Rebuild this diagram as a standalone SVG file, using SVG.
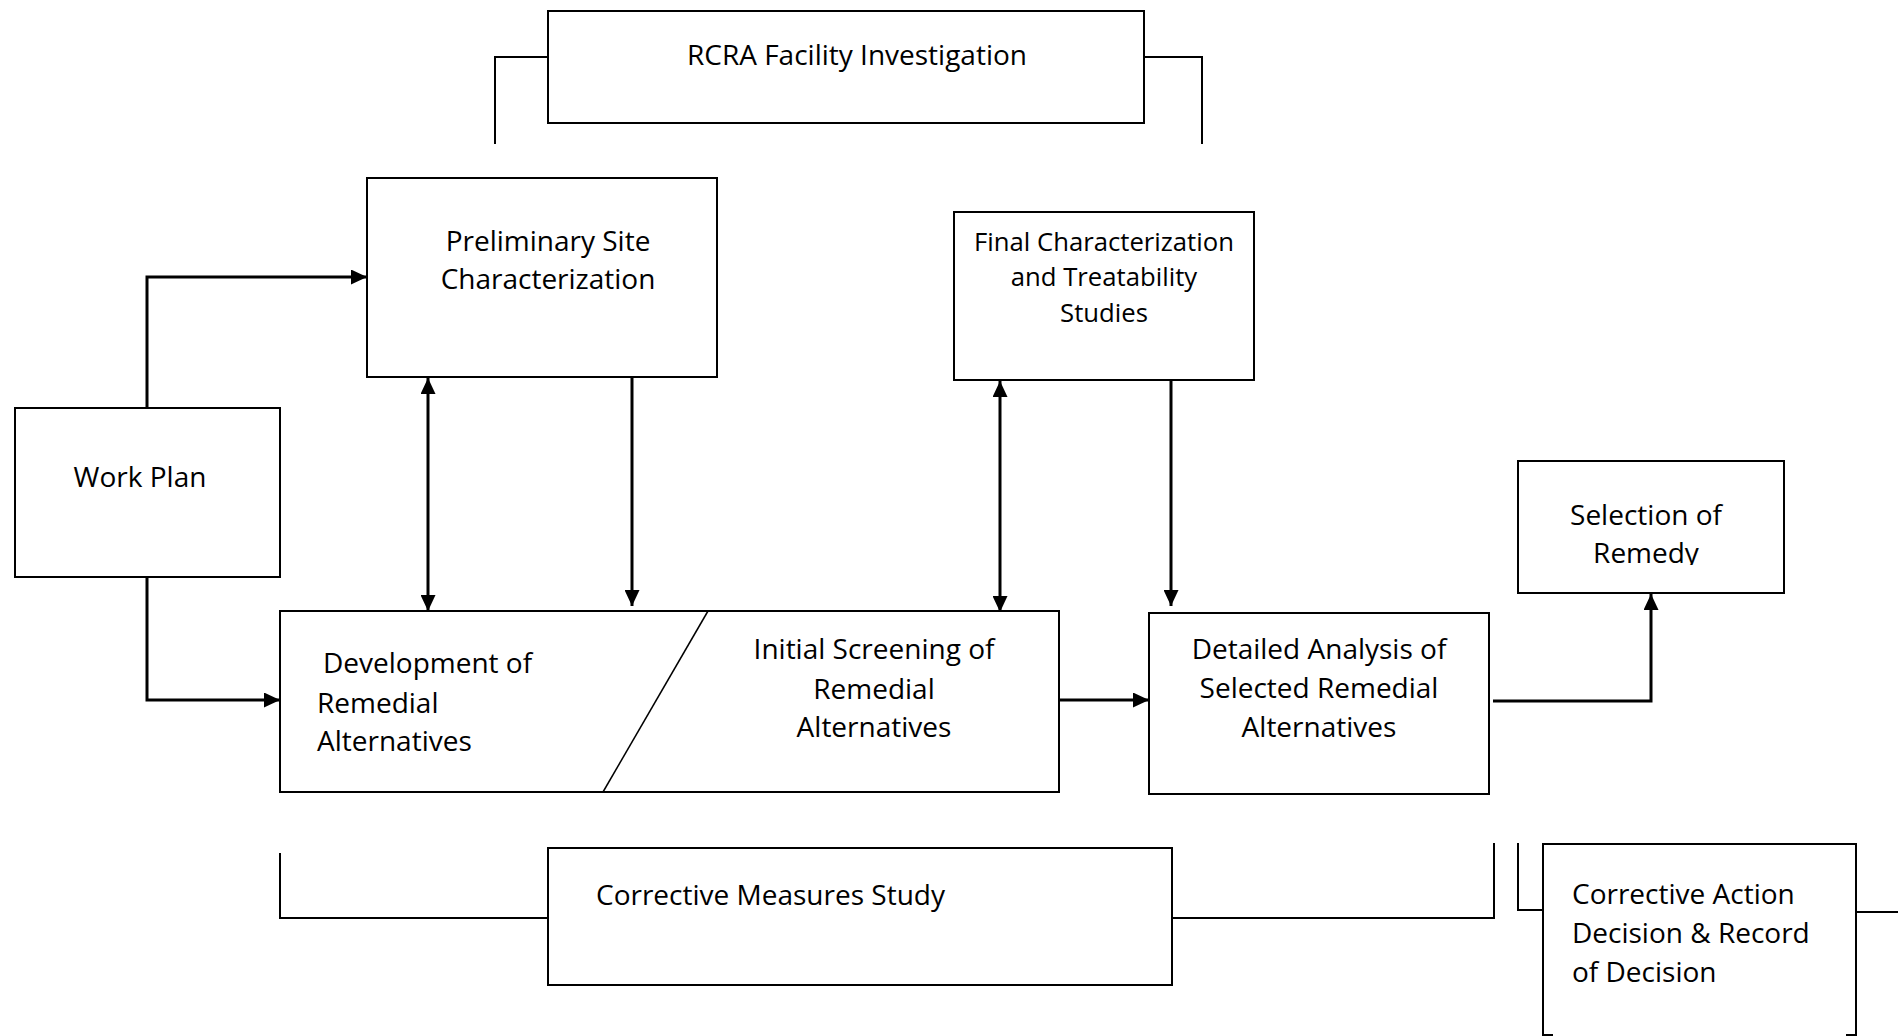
<svg xmlns="http://www.w3.org/2000/svg" width="1898" height="1036" viewBox="0 0 1898 1036">
<style>
.box{fill:#fff;stroke:#000;stroke-width:2}
.t{font-family:"Open Sans","Liberation Sans",sans-serif;font-size:28px;fill:#000}
.ts{font-family:"Open Sans","Liberation Sans",sans-serif;font-size:25.7px;fill:#000}
.c{text-anchor:middle}
.con{fill:none;stroke:#000;stroke-width:3}
.br{fill:none;stroke:#000;stroke-width:2}
.dg{fill:none;stroke:#000;stroke-width:1.5}
</style>
<defs>
<marker id="ah" viewBox="0 0 16 15" refX="16" refY="7.5" markerWidth="16" markerHeight="15" orient="auto-start-reverse" markerUnits="userSpaceOnUse"><path d="M0,0 L16,7.5 L0,15 z" fill="#000"/></marker>
<clipPath id="selclip"><rect x="1518" y="461" width="266" height="104"/></clipPath>
</defs>
<rect width="1898" height="1036" fill="#fff"/>
<g id="brackets">
<path class="br" d="M495,144 V57 H548"/>
<path class="br" d="M1144,57 H1202 V144"/>
<path class="br" d="M280,853 V918 H548"/>
<path class="br" d="M1172,918 H1494 V843"/>
<path class="br" d="M1518,843 V910 H1543"/>
<path class="br" d="M1856,912 H1898"/>
</g>
<g id="connectors">
<path class="con" d="M147,408 V277 H367" marker-end="url(#ah)"/>
<path class="con" d="M147,577 V700 H280" marker-end="url(#ah)"/>
<path class="con" d="M428,378 V611" marker-start="url(#ah)" marker-end="url(#ah)"/>
<path class="con" d="M632,377 V606" marker-end="url(#ah)"/>
<path class="con" d="M1000,381 V612" marker-start="url(#ah)" marker-end="url(#ah)"/>
<path class="con" d="M1171,380 V606" marker-end="url(#ah)"/>
<path class="con" d="M1059,700 H1149" marker-end="url(#ah)"/>
<path class="con" d="M1493,701 H1651 V594" marker-end="url(#ah)"/>
</g>
<g id="rcra">
<rect class="box" x="548" y="11" width="596" height="112"/>
<text class="t c" x="857" y="65">RCRA Facility Investigation</text>
</g>
<g id="prelim">
<rect class="box" x="367" y="178" width="350" height="199"/>
<text class="t c" x="548" y="251">Preliminary Site</text>
<text class="t c" x="548" y="289">Characterization</text>
</g>
<g id="workplan">
<rect class="box" x="15" y="408" width="265" height="169"/>
<text class="t c" x="140" y="487">Work Plan</text>
</g>
<g id="final">
<rect class="box" x="954" y="212" width="300" height="168"/>
<text class="ts c" x="1104" y="251">Final Characterization</text>
<text class="ts c" x="1104" y="286">and Treatability</text>
<text class="ts c" x="1104" y="322">Studies</text>
</g>
<g id="selection">
<rect class="box" x="1518" y="461" width="266" height="132"/>
<g clip-path="url(#selclip)">
<text class="t c" x="1646" y="525">Selection of</text>
<text class="t c" x="1646" y="563">Remedy</text>
</g>
</g>
<g id="devscreen">
<rect class="box" x="280" y="611" width="779" height="181"/>
<line class="dg" x1="708" y1="611" x2="603" y2="792"/>
<text class="t" x="323" y="673">Development of</text>
<text class="t" x="317" y="713">Remedial</text>
<text class="t" x="317" y="751">Alternatives</text>
<text class="t c" x="874" y="659">Initial Screening of</text>
<text class="t c" x="874" y="699">Remedial</text>
<text class="t c" x="874" y="737">Alternatives</text>
</g>
<g id="detailed">
<rect class="box" x="1149" y="613" width="340" height="181"/>
<text class="t c" x="1319" y="659">Detailed Analysis of</text>
<text class="t c" x="1319" y="698">Selected Remedial</text>
<text class="t c" x="1319" y="737">Alternatives</text>
</g>
<g id="cms">
<rect class="box" x="548" y="848" width="624" height="137"/>
<text class="t" x="596" y="905">Corrective Measures Study</text>
</g>
<g id="cadecision">
<path class="br" d="M1543,1040 V844 H1856 V1040"/>
<path class="br" d="M1543,1035 h10 M1856,1035 h-10"/>
<text class="t" x="1572" y="904">Corrective Action</text>
<text class="t" x="1572" y="943">Decision &amp; Record</text>
<text class="t" x="1572" y="982">of Decision</text>
</g>
</svg>
